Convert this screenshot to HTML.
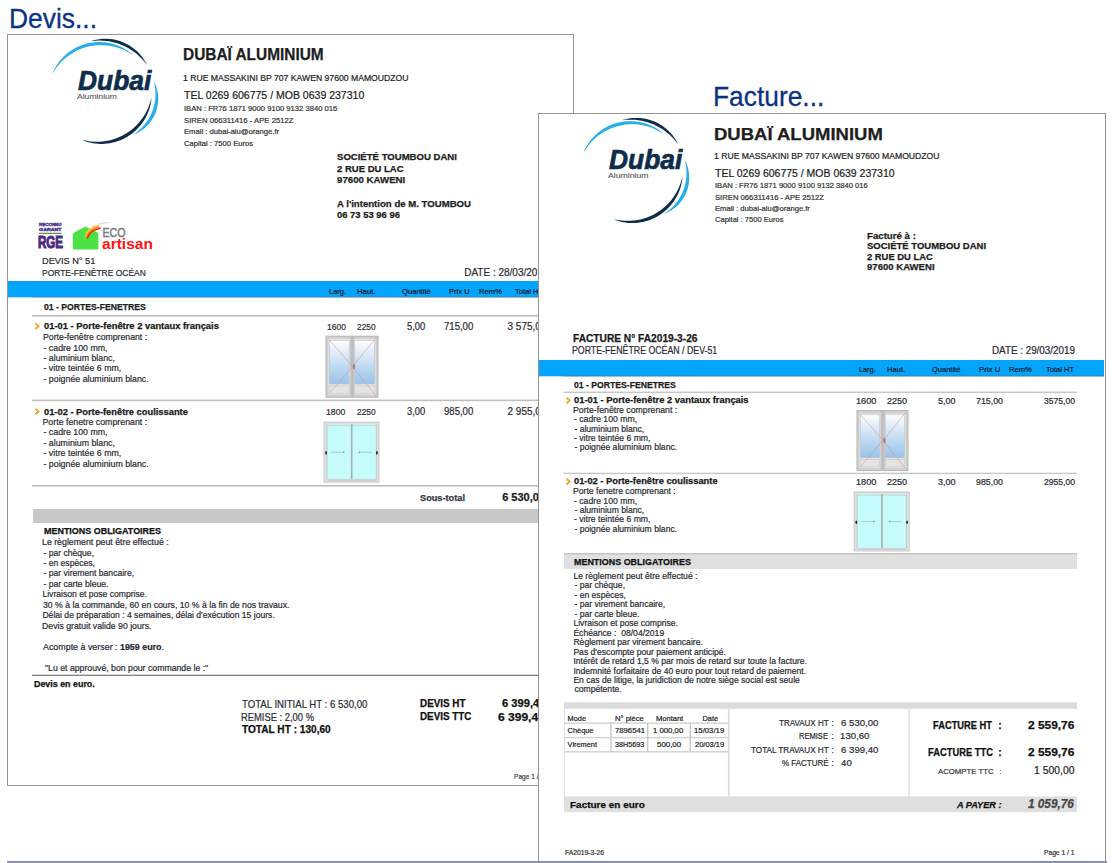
<!DOCTYPE html>
<html><head><meta charset="utf-8"><title>Devis / Facture</title>
<style>
html,body{margin:0;padding:0;background:#fff;}
body{width:1113px;height:863px;position:relative;overflow:hidden;font-family:"Liberation Sans",sans-serif;}
.t{position:absolute;white-space:nowrap;}
.s{position:absolute;left:0;top:0;}
#dbox{position:absolute;left:7px;top:34px;width:565px;height:750px;border:1px solid #959595;background:#fff;}
#fbox{position:absolute;left:538px;top:113px;width:566px;height:760px;border:1px solid #959595;background:#fff;}
#band{position:absolute;left:7px;top:861px;width:1100px;height:2px;background:#8a90a9;}
</style></head><body>
<div class="t" style="left:8.69px;top:4.90px;color:#0b3382;font-family:'Liberation Sans',sans-serif;font-size:27.60px;line-height:1;-webkit-text-stroke:0.3px #0b3382;transform:scaleX(0.9568);transform-origin:0 0;">Devis...</div>
<div class="t" style="left:712.59px;top:82.90px;color:#0b3382;font-family:'Liberation Sans',sans-serif;font-size:27.60px;line-height:1;-webkit-text-stroke:0.3px #0b3382;transform:scaleX(0.9549);transform-origin:0 0;">Facture...</div>
<div id="dbox"></div>
<svg class="s" width="1113" height="863" viewBox="0 0 1113 863"><defs><linearGradient id="gl" x1="0" y1="0" x2="0" y2="1"><stop offset="0" stop-color="#ffffff"/><stop offset="0.25" stop-color="#e2eef8"/><stop offset="1" stop-color="#97c3ea"/></linearGradient></defs><g transform="translate(0.0 0.7)"><path d="M52.33 73.22 L53.20 70.98 L54.23 68.80 L55.37 66.68 L56.63 64.61 L57.98 62.60 L59.44 60.66 L60.99 58.78 L62.63 56.98 L64.36 55.26 L66.18 53.62 L68.07 52.07 L70.04 50.61 L72.08 49.24 L74.18 47.98 L76.35 46.82 L78.57 45.76 L80.84 44.81 L83.16 43.97 L85.51 43.25 L87.90 42.63 L90.31 42.14 L92.75 41.77 L95.19 41.51 L97.65 41.37 L100.11 41.35 L102.57 41.45 L105.01 41.67 L107.45 42.01 L109.85 42.46 L112.24 43.03 L114.58 43.71 L116.89 44.51 L119.16 45.41 L121.37 46.42 L123.53 47.53 L125.63 48.75 L127.66 50.06 L129.61 51.47 L131.49 52.98 L133.26 54.61 L133.26 54.61 L131.24 53.32 L129.20 52.09 L127.12 50.94 L125.01 49.88 L122.86 48.91 L120.68 48.03 L118.46 47.24 L116.22 46.55 L113.96 45.96 L111.67 45.47 L109.38 45.07 L107.07 44.77 L104.75 44.56 L102.43 44.46 L100.11 44.45 L97.79 44.54 L95.49 44.72 L93.19 45.00 L90.90 45.38 L88.64 45.85 L86.39 46.42 L84.17 47.08 L81.98 47.83 L79.83 48.67 L77.70 49.60 L75.62 50.62 L73.58 51.73 L71.58 52.93 L69.64 54.21 L67.75 55.57 L65.91 57.01 L64.13 58.53 L62.42 60.13 L60.77 61.80 L59.19 63.55 L57.68 65.36 L56.24 67.24 L54.87 69.18 L53.58 71.18 L52.33 73.22Z" fill="#29aee8"/><path d="M91.36 40.34 L92.90 39.82 L94.47 39.39 L96.06 39.02 L97.67 38.72 L99.29 38.47 L100.92 38.29 L102.56 38.16 L104.20 38.09 L105.85 38.08 L107.50 38.12 L109.15 38.23 L110.80 38.40 L112.44 38.62 L114.07 38.90 L115.70 39.25 L117.31 39.65 L118.90 40.10 L120.48 40.62 L122.04 41.19 L123.58 41.82 L125.10 42.50 L126.59 43.23 L128.05 44.02 L129.48 44.86 L130.88 45.75 L132.25 46.69 L133.58 47.68 L134.87 48.71 L136.13 49.79 L137.34 50.91 L138.51 52.08 L139.64 53.28 L140.73 54.52 L141.76 55.79 L142.75 57.10 L143.69 58.44 L144.58 59.82 L145.41 61.22 L146.19 62.65 L146.87 64.13 L146.87 64.13 L145.86 62.86 L144.85 61.60 L143.82 60.37 L142.77 59.16 L141.68 57.99 L140.57 56.85 L139.43 55.74 L138.26 54.67 L137.06 53.63 L135.84 52.62 L134.60 51.65 L133.33 50.72 L132.03 49.82 L130.72 48.96 L129.38 48.14 L128.02 47.35 L126.64 46.60 L125.25 45.88 L123.83 45.21 L122.40 44.57 L120.95 43.97 L119.49 43.42 L118.01 42.90 L116.51 42.42 L115.01 41.98 L113.49 41.58 L111.95 41.22 L110.41 40.90 L108.86 40.62 L107.30 40.39 L105.73 40.20 L104.15 40.05 L102.57 39.94 L100.98 39.88 L99.38 39.86 L97.79 39.88 L96.18 39.95 L94.58 40.06 L92.98 40.20 L91.36 40.34Z" fill="#0d2d4b"/><path d="M153.77 80.29 L154.55 81.69 L155.22 83.14 L155.82 84.62 L156.36 86.14 L156.82 87.68 L157.23 89.24 L157.56 90.82 L157.83 92.42 L158.03 94.03 L158.16 95.66 L158.23 97.29 L158.22 98.92 L158.15 100.55 L158.00 102.18 L157.79 103.81 L157.51 105.42 L157.16 107.03 L156.74 108.62 L156.25 110.18 L155.70 111.73 L155.08 113.25 L154.40 114.75 L153.65 116.21 L152.84 117.64 L151.98 119.03 L151.05 120.39 L150.07 121.70 L149.04 122.97 L147.95 124.19 L146.82 125.36 L145.64 126.48 L144.42 127.55 L143.15 128.56 L141.85 129.52 L140.50 130.41 L139.13 131.25 L137.72 132.03 L136.29 132.73 L134.82 133.37 L133.31 133.89 L133.31 133.89 L134.59 132.96 L135.87 132.03 L137.11 131.08 L138.32 130.10 L139.50 129.08 L140.64 128.03 L141.74 126.95 L142.80 125.84 L143.82 124.70 L144.80 123.52 L145.74 122.32 L146.64 121.10 L147.50 119.84 L148.32 118.57 L149.10 117.26 L149.83 115.94 L150.52 114.60 L151.17 113.23 L151.77 111.85 L152.34 110.45 L152.85 109.03 L153.32 107.60 L153.75 106.15 L154.13 104.68 L154.47 103.21 L154.75 101.72 L155.00 100.22 L155.19 98.72 L155.34 97.20 L155.43 95.68 L155.48 94.15 L155.48 92.62 L155.43 91.08 L155.34 89.54 L155.19 88.00 L154.99 86.46 L154.74 84.92 L154.45 83.38 L154.11 81.84 L153.77 80.29Z" fill="#29aee8"/><path d="M151.45 97.01 L151.28 99.34 L150.95 101.66 L150.50 103.96 L149.94 106.24 L149.26 108.50 L148.48 110.73 L147.59 112.92 L146.59 115.08 L145.49 117.18 L144.29 119.24 L143.00 121.24 L141.61 123.17 L140.12 125.05 L138.55 126.85 L136.90 128.57 L135.16 130.22 L133.35 131.78 L131.46 133.26 L129.50 134.64 L127.48 135.93 L125.40 137.12 L123.27 138.22 L121.09 139.21 L118.86 140.09 L116.60 140.87 L114.30 141.54 L111.97 142.09 L109.63 142.54 L107.27 142.88 L104.90 143.10 L102.52 143.21 L100.15 143.20 L97.78 143.09 L95.42 142.86 L93.08 142.53 L90.77 142.08 L88.48 141.52 L86.23 140.85 L84.03 140.07 L81.88 139.14 L81.88 139.14 L84.15 139.64 L86.42 140.10 L88.70 140.48 L90.98 140.77 L93.27 140.96 L95.55 141.06 L97.83 141.07 L100.11 140.98 L102.38 140.80 L104.63 140.53 L106.87 140.17 L109.08 139.72 L111.27 139.18 L113.44 138.56 L115.58 137.84 L117.68 137.04 L119.75 136.16 L121.78 135.19 L123.77 134.15 L125.72 133.02 L127.62 131.82 L129.47 130.54 L131.26 129.19 L133.00 127.76 L134.69 126.27 L136.31 124.71 L137.87 123.08 L139.36 121.38 L140.79 119.63 L142.15 117.81 L143.43 115.94 L144.64 114.02 L145.77 112.04 L146.82 110.01 L147.79 107.94 L148.68 105.82 L149.48 103.67 L150.20 101.48 L150.84 99.26 L151.45 97.01Z" fill="#0d2d4b"/></g><text x="50.3" y="226.3" font-family="Liberation Sans" font-weight="bold" font-size="3.6" fill="#4a3490" stroke="#4a3490" stroke-width="0.35" text-anchor="middle" textLength="22.5" lengthAdjust="spacingAndGlyphs">RECONNU</text><text x="50.3" y="231.2" font-family="Liberation Sans" font-weight="bold" font-size="3.6" fill="#4a3490" stroke="#4a3490" stroke-width="0.35" text-anchor="middle" textLength="22.5" lengthAdjust="spacingAndGlyphs">GARANT</text><rect x="39" y="232.7" width="22.6" height="1.3" fill="#5e9a45"/><text x="37.9" y="248.2" font-family="Liberation Sans" font-weight="bold" font-size="16.4" fill="#4a2a86" stroke="#4a2a86" stroke-width="1.1" textLength="25.1" lengthAdjust="spacingAndGlyphs">RGE</text><path d="M72.9 234.5 Q72.9 233 74.2 232.4 L84.6 226.9 Q85.4 226.5 86.2 226.9 L97.2 232.2 Q98.4 232.8 98.4 234.2 L98.4 248 Q98.4 249.6 96.8 249.6 L74.5 249.6 Q72.9 249.6 72.9 248 Z" fill="#4be244"/><path d="M99 224.2 Q103.5 222.3 108.5 222.6" fill="none" stroke="#d2d2d2" stroke-width="1.3" stroke-linecap="round" opacity="0.8"/><path d="M85.2 237.0 Q88.2 227.2 99.0 225.6" fill="none" stroke="#f6c83a" stroke-width="1.6"/><path d="M86.3 237.5 Q89.2 228.5 99.6 226.9" fill="none" stroke="#f98d1e" stroke-width="1.4"/><path d="M87.4 238.0 Q90.3 229.8 100.2 228.2" fill="none" stroke="#ff1e12" stroke-width="1.5" stroke-linecap="round"/><text x="102.4" y="236.9" font-family="Liberation Sans" font-size="13.4" fill="#7a7a7a" stroke="#7a7a7a" stroke-width="0.5" textLength="23.2" lengthAdjust="spacingAndGlyphs">ECO</text><text x="102" y="249.1" font-family="Liberation Sans" font-weight="bold" font-size="15.2" fill="#ff1414" textLength="50.9" lengthAdjust="spacingAndGlyphs">artisan</text><rect x="8" y="281" width="565" height="16.3" fill="#02a4fc"/><rect x="32" y="296.4" width="541" height="1" fill="#4f7d9a" opacity="0.8"/><rect x="32" y="315.0" width="541" height="1.6" fill="#bfbfbf"/><rect x="32" y="399.6" width="541" height="1.6" fill="#bfbfbf"/><rect x="32" y="485.0" width="541" height="1.6" fill="#bfbfbf"/><polyline points="35.5,323.4 38.6,326.2 35.5,329.1" fill="none" stroke="#f4a52a" stroke-width="1.9" stroke-linejoin="miter" stroke-linecap="butt"/><polyline points="35.5,408.6 38.6,411.4 35.5,414.3" fill="none" stroke="#f4a52a" stroke-width="1.9" stroke-linejoin="miter" stroke-linecap="butt"/><g transform="translate(325.50 335.70) scale(1.0000 1.0000)"><rect x="0.5" y="0.5" width="52" height="61" fill="#d4d4d4" stroke="#b4b4b4" stroke-width="1"/><rect x="2.3" y="2.3" width="22.6" height="57.4" fill="#e0e0e0" stroke="#c2c2c2" stroke-width="0.6"/><rect x="28.6" y="2.3" width="22.1" height="57.4" fill="#e0e0e0" stroke="#c2c2c2" stroke-width="0.6"/><rect x="25.1" y="0.8" width="3.4" height="60.6" fill="#c3c3c3"/><line x1="26.8" y1="1" x2="26.8" y2="61" stroke="#b0b0b0" stroke-width="0.5"/><rect x="3.8" y="4.8" width="19.8" height="43.4" fill="url(#gl)" stroke="#b7c3cf" stroke-width="0.5"/><rect x="29.3" y="4.8" width="19.6" height="43.4" fill="url(#gl)" stroke="#b7c3cf" stroke-width="0.5"/><rect x="3.8" y="50.3" width="19.8" height="7.3" fill="#e4e4e4" stroke="#c8c8c8" stroke-width="0.5"/><rect x="29.3" y="50.3" width="19.6" height="7.3" fill="#e4e4e4" stroke="#c8c8c8" stroke-width="0.5"/><polyline points="3.6,4.2 27,30.8 3.6,57.8" fill="none" stroke="#e58a92" stroke-width="0.55"/><polyline points="51,1.6 27,30.8 51,60.8" fill="none" stroke="#e58a92" stroke-width="0.55"/><rect x="27.6" y="28.6" width="2" height="4.4" fill="#9b7f80"/></g><g transform="translate(323.50 421.60) scale(1.0000 1.0000)"><rect x="0.5" y="0.5" width="55" height="60" fill="#e2e2e2" stroke="#bdbdbd" stroke-width="0.8"/><rect x="3.6" y="3.3" width="24.2" height="54.4" fill="#c6fbfb"/><rect x="28.6" y="3.3" width="24" height="54.4" fill="#c6fbfb"/><rect x="3.6" y="3.3" width="49" height="1.2" fill="#b7e7e7"/><rect x="27.4" y="2.5" width="1.6" height="56" fill="#a9b0b0"/><line x1="3.4" y1="3" x2="3.4" y2="58" stroke="#b0b0b0" stroke-width="0.6"/><line x1="52.8" y1="3" x2="52.8" y2="58" stroke="#b0b0b0" stroke-width="0.6"/><rect x="3.6" y="57.5" width="49" height="2.2" fill="#d0d0d0"/><ellipse cx="2.6" cy="31.3" rx="0.9" ry="1.8" fill="#222"/><ellipse cx="53.4" cy="31.3" rx="0.9" ry="1.8" fill="#222"/><line x1="7.5" y1="30.6" x2="20.5" y2="30.6" stroke="#9aa" stroke-width="0.6"/><path d="M21.5 30.6 L19.5 29.6 L19.5 31.6Z" fill="#8a9a9a"/><line x1="35.5" y1="30.6" x2="48.5" y2="30.6" stroke="#9aa" stroke-width="0.6"/><path d="M34.5 30.6 L36.5 29.6 L36.5 31.6Z" fill="#8a9a9a"/></g><rect x="33" y="509" width="540" height="14" fill="#c8c8c8"/><rect x="32" y="674.7" width="541" height="1.2" fill="#777"/></svg>
<div class="t" style="left:77.90px;top:66.50px;color:#0d2d4b;font-family:'Liberation Sans',sans-serif;font-size:27.50px;line-height:1;font-weight:bold;font-style:italic;-webkit-text-stroke:0.7px #0d2d4b;transform:scaleX(0.9584);transform-origin:0 0;">Dubai</div>
<div class="t" style="left:76.90px;top:92.60px;color:#555;font-family:'Liberation Sans',sans-serif;font-size:7.70px;line-height:1;-webkit-text-stroke:0.1px #555;transform:scaleX(1.1143);transform-origin:0 0;">Aluminium</div>
<div class="t" style="left:183.41px;top:46.80px;color:#1e1e1e;font-family:'Liberation Sans',sans-serif;font-size:15.60px;line-height:1;font-weight:bold;-webkit-text-stroke:0.25px #1e1e1e;transform:scaleX(0.9879);transform-origin:0 0;">DUBAÏ ALUMINIUM</div>
<div class="t" style="left:182.96px;top:73.60px;color:#222;font-family:'Liberation Sans',sans-serif;font-size:8.30px;line-height:1;-webkit-text-stroke:0.20px #222;transform:scaleX(1.0405);transform-origin:0 0;">1 RUE MASSAKINI BP 707 KAWEN 97600 MAMOUDZOU</div>
<div class="t" style="left:184.00px;top:90.00px;color:#1a1a1a;font-family:'Liberation Sans',sans-serif;font-size:11.00px;line-height:1;-webkit-text-stroke:0.20px #1a1a1a;transform:scaleX(0.9559);transform-origin:0 0;">TEL 0269 606775 / MOB 0639 237310</div>
<div class="t" style="left:183.60px;top:104.80px;color:#333;font-family:'Liberation Sans',sans-serif;font-size:7.20px;line-height:1;-webkit-text-stroke:0.20px #333;transform:scaleX(1.0625);transform-origin:0 0;">IBAN : FR76 1871 9000 9100 9132 3840 016</div>
<div class="t" style="left:183.60px;top:116.50px;color:#333;font-family:'Liberation Sans',sans-serif;font-size:7.20px;line-height:1;-webkit-text-stroke:0.20px #333;transform:scaleX(1.0716);transform-origin:0 0;">SIREN 066311416 - APE 2512Z</div>
<div class="t" style="left:183.60px;top:128.20px;color:#333;font-family:'Liberation Sans',sans-serif;font-size:7.20px;line-height:1;-webkit-text-stroke:0.20px #333;transform:scaleX(1.0611);transform-origin:0 0;">Email : dubai-alu@orange.fr</div>
<div class="t" style="left:183.60px;top:139.60px;color:#333;font-family:'Liberation Sans',sans-serif;font-size:7.20px;line-height:1;-webkit-text-stroke:0.20px #333;transform:scaleX(1.0615);transform-origin:0 0;">Capital : 7500 Euros</div>
<div class="t" style="left:336.50px;top:153.10px;color:#1e1e1e;font-family:'Liberation Sans',sans-serif;font-size:9.30px;line-height:1;font-weight:bold;-webkit-text-stroke:0.25px #1e1e1e;transform:scaleX(1.0284);transform-origin:0 0;">SOCIÉTÉ TOUMBOU DANI</div>
<div class="t" style="left:336.50px;top:164.70px;color:#1e1e1e;font-family:'Liberation Sans',sans-serif;font-size:9.30px;line-height:1;font-weight:bold;-webkit-text-stroke:0.25px #1e1e1e;transform:scaleX(1.0231);transform-origin:0 0;">2 RUE DU LAC</div>
<div class="t" style="left:336.50px;top:176.00px;color:#1e1e1e;font-family:'Liberation Sans',sans-serif;font-size:9.30px;line-height:1;font-weight:bold;-webkit-text-stroke:0.25px #1e1e1e;transform:scaleX(1.0400);transform-origin:0 0;">97600 KAWENI</div>
<div class="t" style="left:336.50px;top:199.50px;color:#1e1e1e;font-family:'Liberation Sans',sans-serif;font-size:9.30px;line-height:1;font-weight:bold;-webkit-text-stroke:0.25px #1e1e1e;transform:scaleX(1.0326);transform-origin:0 0;">A l'intention de M. TOUMBOU</div>
<div class="t" style="left:336.50px;top:211.00px;color:#1e1e1e;font-family:'Liberation Sans',sans-serif;font-size:9.30px;line-height:1;font-weight:bold;-webkit-text-stroke:0.25px #1e1e1e;transform:scaleX(1.0145);transform-origin:0 0;">06 73 53 96 96</div>
<div class="t" style="left:41.53px;top:255.70px;color:#2a2a33;font-family:'Liberation Sans',sans-serif;font-size:9.50px;line-height:1;-webkit-text-stroke:0.20px #2a2a33;transform:scaleX(0.9685);transform-origin:0 0;">DEVIS N° 51</div>
<div class="t" style="left:41.61px;top:267.90px;color:#2a2a33;font-family:'Liberation Sans',sans-serif;font-size:9.50px;line-height:1;-webkit-text-stroke:0.20px #2a2a33;transform:scaleX(0.8913);transform-origin:0 0;">PORTE-FENÊTRE OCÉAN</div>
<div class="t" style="left:464.20px;top:267.60px;color:#2a2a33;font-family:'Liberation Sans',sans-serif;font-size:10.00px;line-height:1;-webkit-text-stroke:0.20px #2a2a33;">DATE : 28/03/2019</div>
<div class="t" style="left:328.60px;top:288.00px;color:#0e1a28;font-family:'Liberation Sans',sans-serif;font-size:7.50px;line-height:1;-webkit-text-stroke:0.20px #0e1a28;transform:scaleX(0.9941);transform-origin:0 0;">Larg.</div>
<div class="t" style="left:357.20px;top:288.00px;color:#0e1a28;font-family:'Liberation Sans',sans-serif;font-size:7.50px;line-height:1;-webkit-text-stroke:0.20px #0e1a28;transform:scaleX(1.0353);transform-origin:0 0;">Haut.</div>
<div class="t" style="left:401.60px;top:288.00px;color:#0e1a28;font-family:'Liberation Sans',sans-serif;font-size:7.50px;line-height:1;-webkit-text-stroke:0.20px #0e1a28;transform:scaleX(1.0143);transform-origin:0 0;">Quantité</div>
<div class="t" style="left:448.90px;top:288.00px;color:#0e1a28;font-family:'Liberation Sans',sans-serif;font-size:7.50px;line-height:1;-webkit-text-stroke:0.20px #0e1a28;transform:scaleX(1.0100);transform-origin:0 0;">Prix U</div>
<div class="t" style="left:478.50px;top:288.00px;color:#0e1a28;font-family:'Liberation Sans',sans-serif;font-size:7.50px;line-height:1;-webkit-text-stroke:0.20px #0e1a28;transform:scaleX(1.0227);transform-origin:0 0;">Rem%</div>
<div class="t" style="left:515.30px;top:288.00px;color:#0e1a28;font-family:'Liberation Sans',sans-serif;font-size:7.50px;line-height:1;-webkit-text-stroke:0.20px #0e1a28;transform:scaleX(1.0107);transform-origin:0 0;">Total HT</div>
<div class="t" style="left:43.70px;top:302.70px;color:#1e1e1e;font-family:'Liberation Sans',sans-serif;font-size:9.30px;line-height:1;font-weight:bold;-webkit-text-stroke:0.25px #1e1e1e;transform:scaleX(0.9294);transform-origin:0 0;">01 - PORTES-FENETRES</div>
<div class="t" style="left:43.50px;top:322.40px;color:#1a1a1a;font-family:'Liberation Sans',sans-serif;font-size:9.00px;line-height:1;font-weight:bold;-webkit-text-stroke:0.25px #1a1a1a;transform:scaleX(1.0405);transform-origin:0 0;">01-01 - Porte-fenêtre 2 vantaux français</div>
<div class="t" style="left:42.51px;top:333.20px;color:#2a2a33;font-family:'Liberation Sans',sans-serif;font-size:8.80px;line-height:1;-webkit-text-stroke:0.20px #2a2a33;transform:scaleX(0.9904);transform-origin:0 0;">Porte-fenêtre comprenant :</div>
<div class="t" style="left:43.50px;top:343.55px;color:#2a2a33;font-family:'Liberation Sans',sans-serif;font-size:8.80px;line-height:1;-webkit-text-stroke:0.20px #2a2a33;">- cadre 100 mm,</div>
<div class="t" style="left:43.50px;top:353.90px;color:#2a2a33;font-family:'Liberation Sans',sans-serif;font-size:8.80px;line-height:1;-webkit-text-stroke:0.20px #2a2a33;">- aluminium blanc,</div>
<div class="t" style="left:43.50px;top:364.25px;color:#2a2a33;font-family:'Liberation Sans',sans-serif;font-size:8.80px;line-height:1;-webkit-text-stroke:0.20px #2a2a33;">- vitre teintée 6 mm,</div>
<div class="t" style="left:43.50px;top:374.60px;color:#2a2a33;font-family:'Liberation Sans',sans-serif;font-size:8.80px;line-height:1;-webkit-text-stroke:0.20px #2a2a33;">- poignée aluminium blanc.</div>
<div class="t" style="left:326.69px;top:322.00px;color:#2a2a33;font-family:'Liberation Sans',sans-serif;font-size:9.40px;line-height:1;-webkit-text-stroke:0.20px #2a2a33;transform:scaleX(0.9100);transform-origin:0 0;">1600</div>
<div class="t" style="left:357.00px;top:322.00px;color:#2a2a33;font-family:'Liberation Sans',sans-serif;font-size:9.40px;line-height:1;-webkit-text-stroke:0.20px #2a2a33;transform:scaleX(0.8905);transform-origin:0 0;">2250</div>
<div class="t" style="left:406.90px;top:322.40px;color:#2a2a33;font-family:'Liberation Sans',sans-serif;font-size:10.00px;line-height:1;-webkit-text-stroke:0.20px #2a2a33;transform:scaleX(0.9368);transform-origin:0 0;">5,00</div>
<div class="t" style="left:444.30px;top:322.40px;color:#2a2a33;font-family:'Liberation Sans',sans-serif;font-size:10.00px;line-height:1;-webkit-text-stroke:0.20px #2a2a33;transform:scaleX(0.9567);transform-origin:0 0;">715,00</div>
<div class="t" style="left:507.50px;top:322.40px;color:#2a2a33;font-family:'Liberation Sans',sans-serif;font-size:10.00px;line-height:1;-webkit-text-stroke:0.20px #2a2a33;">3 575,00</div>
<div class="t" style="left:43.50px;top:407.60px;color:#1a1a1a;font-family:'Liberation Sans',sans-serif;font-size:9.00px;line-height:1;font-weight:bold;-webkit-text-stroke:0.25px #1a1a1a;transform:scaleX(1.0345);transform-origin:0 0;">01-02 - Porte-fenêtre coulissante</div>
<div class="t" style="left:42.50px;top:417.90px;color:#2a2a33;font-family:'Liberation Sans',sans-serif;font-size:8.80px;line-height:1;-webkit-text-stroke:0.20px #2a2a33;">Porte fenetre comprenant :</div>
<div class="t" style="left:43.50px;top:428.30px;color:#2a2a33;font-family:'Liberation Sans',sans-serif;font-size:8.80px;line-height:1;-webkit-text-stroke:0.20px #2a2a33;">- cadre 100 mm,</div>
<div class="t" style="left:43.50px;top:438.70px;color:#2a2a33;font-family:'Liberation Sans',sans-serif;font-size:8.80px;line-height:1;-webkit-text-stroke:0.20px #2a2a33;">- aluminium blanc,</div>
<div class="t" style="left:43.50px;top:449.10px;color:#2a2a33;font-family:'Liberation Sans',sans-serif;font-size:8.80px;line-height:1;-webkit-text-stroke:0.20px #2a2a33;">- vitre teintée 6 mm,</div>
<div class="t" style="left:43.50px;top:459.50px;color:#2a2a33;font-family:'Liberation Sans',sans-serif;font-size:8.80px;line-height:1;-webkit-text-stroke:0.20px #2a2a33;">- poignée aluminium blanc.</div>
<div class="t" style="left:326.27px;top:406.50px;color:#2a2a33;font-family:'Liberation Sans',sans-serif;font-size:9.40px;line-height:1;-webkit-text-stroke:0.20px #2a2a33;transform:scaleX(0.9300);transform-origin:0 0;">1800</div>
<div class="t" style="left:357.00px;top:406.50px;color:#2a2a33;font-family:'Liberation Sans',sans-serif;font-size:9.40px;line-height:1;-webkit-text-stroke:0.20px #2a2a33;transform:scaleX(0.8905);transform-origin:0 0;">2250</div>
<div class="t" style="left:406.90px;top:406.90px;color:#2a2a33;font-family:'Liberation Sans',sans-serif;font-size:10.00px;line-height:1;-webkit-text-stroke:0.20px #2a2a33;transform:scaleX(0.9368);transform-origin:0 0;">3,00</div>
<div class="t" style="left:444.30px;top:406.90px;color:#2a2a33;font-family:'Liberation Sans',sans-serif;font-size:10.00px;line-height:1;-webkit-text-stroke:0.20px #2a2a33;transform:scaleX(0.9567);transform-origin:0 0;">985,00</div>
<div class="t" style="left:507.50px;top:406.90px;color:#2a2a33;font-family:'Liberation Sans',sans-serif;font-size:10.00px;line-height:1;-webkit-text-stroke:0.20px #2a2a33;">2 955,00</div>
<div class="t" style="left:419.70px;top:493.90px;color:#333844;font-family:'Liberation Sans',sans-serif;font-size:9.30px;line-height:1;font-weight:bold;-webkit-text-stroke:0.25px #333844;transform:scaleX(0.9889);transform-origin:0 0;">Sous-total</div>
<div class="t" style="left:502.20px;top:492.00px;color:#222;font-family:'Liberation Sans',sans-serif;font-size:11.00px;line-height:1;font-weight:bold;-webkit-text-stroke:0.25px #222;">6 530,00</div>
<div class="t" style="left:43.80px;top:526.90px;color:#111;font-family:'Liberation Sans',sans-serif;font-size:8.60px;line-height:1;font-weight:bold;-webkit-text-stroke:0.25px #111;transform:scaleX(1.0411);transform-origin:0 0;">MENTIONS OBLIGATOIRES</div>
<div class="t" style="left:42.38px;top:538.30px;color:#2a2a33;font-family:'Liberation Sans',sans-serif;font-size:8.60px;line-height:1;-webkit-text-stroke:0.20px #2a2a33;transform:scaleX(1.0211);transform-origin:0 0;">Le règlement peut être effectué :</div>
<div class="t" style="left:43.40px;top:548.50px;color:#2a2a33;font-family:'Liberation Sans',sans-serif;font-size:8.60px;line-height:1;-webkit-text-stroke:0.20px #2a2a33;">- par chèque,</div>
<div class="t" style="left:43.40px;top:558.90px;color:#2a2a33;font-family:'Liberation Sans',sans-serif;font-size:8.60px;line-height:1;-webkit-text-stroke:0.20px #2a2a33;">- en espèces,</div>
<div class="t" style="left:43.40px;top:569.30px;color:#2a2a33;font-family:'Liberation Sans',sans-serif;font-size:8.60px;line-height:1;-webkit-text-stroke:0.20px #2a2a33;">- par virement bancaire,</div>
<div class="t" style="left:43.40px;top:579.50px;color:#2a2a33;font-family:'Liberation Sans',sans-serif;font-size:8.60px;line-height:1;-webkit-text-stroke:0.20px #2a2a33;">- par carte bleue.</div>
<div class="t" style="left:42.40px;top:590.20px;color:#2a2a33;font-family:'Liberation Sans',sans-serif;font-size:8.60px;line-height:1;-webkit-text-stroke:0.20px #2a2a33;">Livraison et pose comprise.</div>
<div class="t" style="left:43.40px;top:600.60px;color:#2a2a33;font-family:'Liberation Sans',sans-serif;font-size:8.60px;line-height:1;-webkit-text-stroke:0.20px #2a2a33;transform:scaleX(1.0115);transform-origin:0 0;">30 % à la commande, 60 en cours, 10 % à la fin de nos travaux.</div>
<div class="t" style="left:42.40px;top:611.10px;color:#2a2a33;font-family:'Liberation Sans',sans-serif;font-size:8.60px;line-height:1;-webkit-text-stroke:0.20px #2a2a33;">Délai de préparation : 4 semaines, délai d'exécution 15 jours.</div>
<div class="t" style="left:42.39px;top:621.50px;color:#2a2a33;font-family:'Liberation Sans',sans-serif;font-size:8.60px;line-height:1;-webkit-text-stroke:0.20px #2a2a33;transform:scaleX(1.0142);transform-origin:0 0;">Devis gratuit valide 90 jours.</div>
<div class="t" style="left:43.40px;top:642.70px;color:#2a2a33;font-family:'Liberation Sans',sans-serif;font-size:8.60px;line-height:1;-webkit-text-stroke:0.20px #2a2a33;transform:scaleX(1.0333);transform-origin:0 0;">Acompte à verser : <b>1959 euro</b>.</div>
<div class="t" style="left:45.00px;top:663.80px;color:#2a2a33;font-family:'Liberation Sans',sans-serif;font-size:8.60px;line-height:1;-webkit-text-stroke:0.20px #2a2a33;transform:scaleX(1.0143);transform-origin:0 0;">"Lu et approuvé, bon pour commande le :"</div>
<div class="t" style="left:34.40px;top:680.30px;color:#111;font-family:'Liberation Sans',sans-serif;font-size:8.80px;line-height:1;font-weight:bold;-webkit-text-stroke:0.25px #111;transform:scaleX(1.0100);transform-origin:0 0;">Devis en euro.</div>
<div class="t" style="left:241.50px;top:699.60px;color:#2a2a33;font-family:'Liberation Sans',sans-serif;font-size:10.40px;line-height:1;-webkit-text-stroke:0.20px #2a2a33;transform:scaleX(0.9252);transform-origin:0 0;">TOTAL INITIAL HT : 6 530,00</div>
<div class="t" style="left:240.60px;top:712.50px;color:#2a2a33;font-family:'Liberation Sans',sans-serif;font-size:10.40px;line-height:1;-webkit-text-stroke:0.20px #2a2a33;transform:scaleX(0.9025);transform-origin:0 0;">REMISE : 2,00 %</div>
<div class="t" style="left:241.50px;top:724.80px;color:#111;font-family:'Liberation Sans',sans-serif;font-size:10.40px;line-height:1;font-weight:bold;-webkit-text-stroke:0.25px #111;transform:scaleX(0.9725);transform-origin:0 0;">TOTAL HT : 130,60</div>
<div class="t" style="left:419.70px;top:699.30px;color:#111;font-family:'Liberation Sans',sans-serif;font-size:10.40px;line-height:1;font-weight:bold;-webkit-text-stroke:0.25px #111;transform:scaleX(0.9500);transform-origin:0 0;">DEVIS HT</div>
<div class="t" style="left:419.70px;top:712.20px;color:#111;font-family:'Liberation Sans',sans-serif;font-size:10.40px;line-height:1;font-weight:bold;-webkit-text-stroke:0.25px #111;transform:scaleX(0.9463);transform-origin:0 0;">DEVIS TTC</div>
<div class="t" style="left:502.20px;top:699.30px;color:#111;font-family:'Liberation Sans',sans-serif;font-size:10.40px;line-height:1;font-weight:bold;-webkit-text-stroke:0.25px #111;transform:scaleX(1.0725);transform-origin:0 0;">6 399,40</div>
<div class="t" style="left:498.30px;top:711.50px;color:#111;font-family:'Liberation Sans',sans-serif;font-size:11.40px;line-height:1;font-weight:bold;-webkit-text-stroke:0.25px #111;transform:scaleX(1.0568);transform-origin:0 0;">6 399,40</div>
<div class="t" style="left:514.00px;top:773.80px;color:#444;font-family:'Liberation Sans',sans-serif;font-size:6.60px;line-height:1;-webkit-text-stroke:0.20px #444;">Page 1 / 1</div>
<div id="fbox"></div>
<svg class="s" width="1113" height="863" viewBox="0 0 1113 863"><g transform="translate(531.0 79.8)"><path d="M52.33 73.22 L53.20 70.98 L54.23 68.80 L55.37 66.68 L56.63 64.61 L57.98 62.60 L59.44 60.66 L60.99 58.78 L62.63 56.98 L64.36 55.26 L66.18 53.62 L68.07 52.07 L70.04 50.61 L72.08 49.24 L74.18 47.98 L76.35 46.82 L78.57 45.76 L80.84 44.81 L83.16 43.97 L85.51 43.25 L87.90 42.63 L90.31 42.14 L92.75 41.77 L95.19 41.51 L97.65 41.37 L100.11 41.35 L102.57 41.45 L105.01 41.67 L107.45 42.01 L109.85 42.46 L112.24 43.03 L114.58 43.71 L116.89 44.51 L119.16 45.41 L121.37 46.42 L123.53 47.53 L125.63 48.75 L127.66 50.06 L129.61 51.47 L131.49 52.98 L133.26 54.61 L133.26 54.61 L131.24 53.32 L129.20 52.09 L127.12 50.94 L125.01 49.88 L122.86 48.91 L120.68 48.03 L118.46 47.24 L116.22 46.55 L113.96 45.96 L111.67 45.47 L109.38 45.07 L107.07 44.77 L104.75 44.56 L102.43 44.46 L100.11 44.45 L97.79 44.54 L95.49 44.72 L93.19 45.00 L90.90 45.38 L88.64 45.85 L86.39 46.42 L84.17 47.08 L81.98 47.83 L79.83 48.67 L77.70 49.60 L75.62 50.62 L73.58 51.73 L71.58 52.93 L69.64 54.21 L67.75 55.57 L65.91 57.01 L64.13 58.53 L62.42 60.13 L60.77 61.80 L59.19 63.55 L57.68 65.36 L56.24 67.24 L54.87 69.18 L53.58 71.18 L52.33 73.22Z" fill="#29aee8"/><path d="M91.36 40.34 L92.90 39.82 L94.47 39.39 L96.06 39.02 L97.67 38.72 L99.29 38.47 L100.92 38.29 L102.56 38.16 L104.20 38.09 L105.85 38.08 L107.50 38.12 L109.15 38.23 L110.80 38.40 L112.44 38.62 L114.07 38.90 L115.70 39.25 L117.31 39.65 L118.90 40.10 L120.48 40.62 L122.04 41.19 L123.58 41.82 L125.10 42.50 L126.59 43.23 L128.05 44.02 L129.48 44.86 L130.88 45.75 L132.25 46.69 L133.58 47.68 L134.87 48.71 L136.13 49.79 L137.34 50.91 L138.51 52.08 L139.64 53.28 L140.73 54.52 L141.76 55.79 L142.75 57.10 L143.69 58.44 L144.58 59.82 L145.41 61.22 L146.19 62.65 L146.87 64.13 L146.87 64.13 L145.86 62.86 L144.85 61.60 L143.82 60.37 L142.77 59.16 L141.68 57.99 L140.57 56.85 L139.43 55.74 L138.26 54.67 L137.06 53.63 L135.84 52.62 L134.60 51.65 L133.33 50.72 L132.03 49.82 L130.72 48.96 L129.38 48.14 L128.02 47.35 L126.64 46.60 L125.25 45.88 L123.83 45.21 L122.40 44.57 L120.95 43.97 L119.49 43.42 L118.01 42.90 L116.51 42.42 L115.01 41.98 L113.49 41.58 L111.95 41.22 L110.41 40.90 L108.86 40.62 L107.30 40.39 L105.73 40.20 L104.15 40.05 L102.57 39.94 L100.98 39.88 L99.38 39.86 L97.79 39.88 L96.18 39.95 L94.58 40.06 L92.98 40.20 L91.36 40.34Z" fill="#0d2d4b"/><path d="M153.77 80.29 L154.55 81.69 L155.22 83.14 L155.82 84.62 L156.36 86.14 L156.82 87.68 L157.23 89.24 L157.56 90.82 L157.83 92.42 L158.03 94.03 L158.16 95.66 L158.23 97.29 L158.22 98.92 L158.15 100.55 L158.00 102.18 L157.79 103.81 L157.51 105.42 L157.16 107.03 L156.74 108.62 L156.25 110.18 L155.70 111.73 L155.08 113.25 L154.40 114.75 L153.65 116.21 L152.84 117.64 L151.98 119.03 L151.05 120.39 L150.07 121.70 L149.04 122.97 L147.95 124.19 L146.82 125.36 L145.64 126.48 L144.42 127.55 L143.15 128.56 L141.85 129.52 L140.50 130.41 L139.13 131.25 L137.72 132.03 L136.29 132.73 L134.82 133.37 L133.31 133.89 L133.31 133.89 L134.59 132.96 L135.87 132.03 L137.11 131.08 L138.32 130.10 L139.50 129.08 L140.64 128.03 L141.74 126.95 L142.80 125.84 L143.82 124.70 L144.80 123.52 L145.74 122.32 L146.64 121.10 L147.50 119.84 L148.32 118.57 L149.10 117.26 L149.83 115.94 L150.52 114.60 L151.17 113.23 L151.77 111.85 L152.34 110.45 L152.85 109.03 L153.32 107.60 L153.75 106.15 L154.13 104.68 L154.47 103.21 L154.75 101.72 L155.00 100.22 L155.19 98.72 L155.34 97.20 L155.43 95.68 L155.48 94.15 L155.48 92.62 L155.43 91.08 L155.34 89.54 L155.19 88.00 L154.99 86.46 L154.74 84.92 L154.45 83.38 L154.11 81.84 L153.77 80.29Z" fill="#29aee8"/><path d="M151.45 97.01 L151.28 99.34 L150.95 101.66 L150.50 103.96 L149.94 106.24 L149.26 108.50 L148.48 110.73 L147.59 112.92 L146.59 115.08 L145.49 117.18 L144.29 119.24 L143.00 121.24 L141.61 123.17 L140.12 125.05 L138.55 126.85 L136.90 128.57 L135.16 130.22 L133.35 131.78 L131.46 133.26 L129.50 134.64 L127.48 135.93 L125.40 137.12 L123.27 138.22 L121.09 139.21 L118.86 140.09 L116.60 140.87 L114.30 141.54 L111.97 142.09 L109.63 142.54 L107.27 142.88 L104.90 143.10 L102.52 143.21 L100.15 143.20 L97.78 143.09 L95.42 142.86 L93.08 142.53 L90.77 142.08 L88.48 141.52 L86.23 140.85 L84.03 140.07 L81.88 139.14 L81.88 139.14 L84.15 139.64 L86.42 140.10 L88.70 140.48 L90.98 140.77 L93.27 140.96 L95.55 141.06 L97.83 141.07 L100.11 140.98 L102.38 140.80 L104.63 140.53 L106.87 140.17 L109.08 139.72 L111.27 139.18 L113.44 138.56 L115.58 137.84 L117.68 137.04 L119.75 136.16 L121.78 135.19 L123.77 134.15 L125.72 133.02 L127.62 131.82 L129.47 130.54 L131.26 129.19 L133.00 127.76 L134.69 126.27 L136.31 124.71 L137.87 123.08 L139.36 121.38 L140.79 119.63 L142.15 117.81 L143.43 115.94 L144.64 114.02 L145.77 112.04 L146.82 110.01 L147.79 107.94 L148.68 105.82 L149.48 103.67 L150.20 101.48 L150.84 99.26 L151.45 97.01Z" fill="#0d2d4b"/></g><rect x="539" y="360" width="565" height="16.3" fill="#02a4fc"/><rect x="563" y="375.4" width="541" height="1" fill="#4f7d9a" opacity="0.8"/><rect x="563.6" y="391.6" width="513.4" height="1.4" fill="#c6c6c6"/><rect x="563.6" y="472.7" width="513.4" height="1.4" fill="#c6c6c6"/><polyline points="566.5,397.7 569.6,400.6 566.5,403.4" fill="none" stroke="#f4a52a" stroke-width="1.9" stroke-linejoin="miter" stroke-linecap="butt"/><polyline points="566.5,478.8 569.6,481.6 566.5,484.5" fill="none" stroke="#f4a52a" stroke-width="1.9" stroke-linejoin="miter" stroke-linecap="butt"/><g transform="translate(856.50 410.10) scale(0.9811 0.9839)"><rect x="0.5" y="0.5" width="52" height="61" fill="#d4d4d4" stroke="#b4b4b4" stroke-width="1"/><rect x="2.3" y="2.3" width="22.6" height="57.4" fill="#e0e0e0" stroke="#c2c2c2" stroke-width="0.6"/><rect x="28.6" y="2.3" width="22.1" height="57.4" fill="#e0e0e0" stroke="#c2c2c2" stroke-width="0.6"/><rect x="25.1" y="0.8" width="3.4" height="60.6" fill="#c3c3c3"/><line x1="26.8" y1="1" x2="26.8" y2="61" stroke="#b0b0b0" stroke-width="0.5"/><rect x="3.8" y="4.8" width="19.8" height="43.4" fill="url(#gl)" stroke="#b7c3cf" stroke-width="0.5"/><rect x="29.3" y="4.8" width="19.6" height="43.4" fill="url(#gl)" stroke="#b7c3cf" stroke-width="0.5"/><rect x="3.8" y="50.3" width="19.8" height="7.3" fill="#e4e4e4" stroke="#c8c8c8" stroke-width="0.5"/><rect x="29.3" y="50.3" width="19.6" height="7.3" fill="#e4e4e4" stroke="#c8c8c8" stroke-width="0.5"/><polyline points="3.6,4.2 27,30.8 3.6,57.8" fill="none" stroke="#e58a92" stroke-width="0.55"/><polyline points="51,1.6 27,30.8 51,60.8" fill="none" stroke="#e58a92" stroke-width="0.55"/><rect x="27.6" y="28.6" width="2" height="4.4" fill="#9b7f80"/></g><g transform="translate(853.70 491.50) scale(1.0000 0.9836)"><rect x="0.5" y="0.5" width="55" height="60" fill="#e2e2e2" stroke="#bdbdbd" stroke-width="0.8"/><rect x="3.6" y="3.3" width="24.2" height="54.4" fill="#c6fbfb"/><rect x="28.6" y="3.3" width="24" height="54.4" fill="#c6fbfb"/><rect x="3.6" y="3.3" width="49" height="1.2" fill="#b7e7e7"/><rect x="27.4" y="2.5" width="1.6" height="56" fill="#a9b0b0"/><line x1="3.4" y1="3" x2="3.4" y2="58" stroke="#b0b0b0" stroke-width="0.6"/><line x1="52.8" y1="3" x2="52.8" y2="58" stroke="#b0b0b0" stroke-width="0.6"/><rect x="3.6" y="57.5" width="49" height="2.2" fill="#d0d0d0"/><ellipse cx="2.6" cy="31.3" rx="0.9" ry="1.8" fill="#222"/><ellipse cx="53.4" cy="31.3" rx="0.9" ry="1.8" fill="#222"/><line x1="7.5" y1="30.6" x2="20.5" y2="30.6" stroke="#9aa" stroke-width="0.6"/><path d="M21.5 30.6 L19.5 29.6 L19.5 31.6Z" fill="#8a9a9a"/><line x1="35.5" y1="30.6" x2="48.5" y2="30.6" stroke="#9aa" stroke-width="0.6"/><path d="M34.5 30.6 L36.5 29.6 L36.5 31.6Z" fill="#8a9a9a"/></g><rect x="564" y="553.5" width="513" height="15.5" fill="#e0e0e0"/><rect x="564" y="553.3" width="513" height="1" fill="#b5b5b5"/><rect x="564" y="702.3" width="513" height="6.5" fill="#dcdcdc"/><rect x="563.8" y="708.8" width="1.3" height="88" fill="#e2e2e2"/><rect x="727.9" y="708.8" width="1.8" height="88" fill="#e0e0e0"/><rect x="908.3" y="708.8" width="1.6" height="88" fill="#e0e0e0"/><rect x="564" y="722.4" width="165" height="1.4" fill="#d2d2d2"/><rect x="564" y="736.9" width="165" height="1.4" fill="#d2d2d2"/><rect x="564" y="751.1" width="165" height="1.4" fill="#d2d2d2"/><rect x="610.3" y="723" width="1.4" height="29" fill="#c8c8c8"/><rect x="647.0" y="723" width="1.4" height="29" fill="#c8c8c8"/><rect x="689.6" y="723" width="1.4" height="29" fill="#c8c8c8"/><rect x="564" y="796.4" width="513" height="15.7" fill="#dfdfdf"/></svg>
<div class="t" style="left:608.90px;top:145.60px;color:#0d2d4b;font-family:'Liberation Sans',sans-serif;font-size:27.50px;line-height:1;font-weight:bold;font-style:italic;-webkit-text-stroke:0.7px #0d2d4b;transform:scaleX(0.9584);transform-origin:0 0;">Dubai</div>
<div class="t" style="left:607.50px;top:172.00px;color:#555;font-family:'Liberation Sans',sans-serif;font-size:7.70px;line-height:1;-webkit-text-stroke:0.1px #555;transform:scaleX(1.1286);transform-origin:0 0;">Aluminium</div>
<div class="t" style="left:713.51px;top:127.40px;color:#1e1e1e;font-family:'Liberation Sans',sans-serif;font-size:15.60px;line-height:1;font-weight:bold;-webkit-text-stroke:0.25px #1e1e1e;transform:scaleX(1.1857);transform-origin:0 0;">DUBAÏ ALUMINIUM</div>
<div class="t" style="left:713.66px;top:152.20px;color:#222;font-family:'Liberation Sans',sans-serif;font-size:8.30px;line-height:1;-webkit-text-stroke:0.20px #222;transform:scaleX(1.0409);transform-origin:0 0;">1 RUE MASSAKINI BP 707 KAWEN 97600 MAMOUDZOU</div>
<div class="t" style="left:714.70px;top:167.90px;color:#1a1a1a;font-family:'Liberation Sans',sans-serif;font-size:11.00px;line-height:1;-webkit-text-stroke:0.20px #1a1a1a;transform:scaleX(0.9521);transform-origin:0 0;">TEL 0269 606775 / MOB 0639 237310</div>
<div class="t" style="left:714.70px;top:182.30px;color:#333;font-family:'Liberation Sans',sans-serif;font-size:7.20px;line-height:1;-webkit-text-stroke:0.20px #333;transform:scaleX(1.0590);transform-origin:0 0;">IBAN : FR76 1871 9000 9100 9132 3840 016</div>
<div class="t" style="left:714.70px;top:193.60px;color:#333;font-family:'Liberation Sans',sans-serif;font-size:7.20px;line-height:1;-webkit-text-stroke:0.20px #333;transform:scaleX(1.0676);transform-origin:0 0;">SIREN 066311416 - APE 2512Z</div>
<div class="t" style="left:714.70px;top:205.10px;color:#333;font-family:'Liberation Sans',sans-serif;font-size:7.20px;line-height:1;-webkit-text-stroke:0.20px #333;transform:scaleX(1.0589);transform-origin:0 0;">Email : dubai-alu@orange.fr</div>
<div class="t" style="left:714.70px;top:216.40px;color:#333;font-family:'Liberation Sans',sans-serif;font-size:7.20px;line-height:1;-webkit-text-stroke:0.20px #333;transform:scaleX(1.0508);transform-origin:0 0;">Capital : 7500 Euros</div>
<div class="t" style="left:867.30px;top:231.60px;color:#1e1e1e;font-family:'Liberation Sans',sans-serif;font-size:9.30px;line-height:1;font-weight:bold;-webkit-text-stroke:0.25px #1e1e1e;transform:scaleX(1.0391);transform-origin:0 0;">Facturé à :</div>
<div class="t" style="left:867.30px;top:241.90px;color:#1e1e1e;font-family:'Liberation Sans',sans-serif;font-size:9.30px;line-height:1;font-weight:bold;-webkit-text-stroke:0.25px #1e1e1e;transform:scaleX(1.0216);transform-origin:0 0;">SOCIÉTÉ TOUMBOU DANI</div>
<div class="t" style="left:867.30px;top:252.60px;color:#1e1e1e;font-family:'Liberation Sans',sans-serif;font-size:9.30px;line-height:1;font-weight:bold;-webkit-text-stroke:0.25px #1e1e1e;transform:scaleX(1.0108);transform-origin:0 0;">2 RUE DU LAC</div>
<div class="t" style="left:867.30px;top:262.70px;color:#1e1e1e;font-family:'Liberation Sans',sans-serif;font-size:9.30px;line-height:1;font-weight:bold;-webkit-text-stroke:0.25px #1e1e1e;transform:scaleX(1.0292);transform-origin:0 0;">97600 KAWENI</div>
<div class="t" style="left:572.50px;top:333.50px;color:#1a1a1a;font-family:'Liberation Sans',sans-serif;font-size:10.00px;line-height:1;font-weight:bold;-webkit-text-stroke:0.25px #1a1a1a;transform:scaleX(1.0172);transform-origin:0 0;">FACTURE N° FA2019-3-26</div>
<div class="t" style="left:571.62px;top:345.80px;color:#2a2a33;font-family:'Liberation Sans',sans-serif;font-size:10.00px;line-height:1;-webkit-text-stroke:0.20px #2a2a33;transform:scaleX(0.8780);transform-origin:0 0;">PORTE-FENÊTRE OCÉAN / DEV-51</div>
<div class="t" style="left:992.02px;top:346.30px;color:#2a2a33;font-family:'Liberation Sans',sans-serif;font-size:10.00px;line-height:1;-webkit-text-stroke:0.20px #2a2a33;transform:scaleX(0.9831);transform-origin:0 0;">DATE : 29/03/2019</div>
<div class="t" style="left:858.70px;top:366.40px;color:#0e1a28;font-family:'Liberation Sans',sans-serif;font-size:7.50px;line-height:1;-webkit-text-stroke:0.20px #0e1a28;transform:scaleX(0.9706);transform-origin:0 0;">Larg.</div>
<div class="t" style="left:887.40px;top:366.40px;color:#0e1a28;font-family:'Liberation Sans',sans-serif;font-size:7.50px;line-height:1;-webkit-text-stroke:0.20px #0e1a28;transform:scaleX(1.0176);transform-origin:0 0;">Haut.</div>
<div class="t" style="left:932.00px;top:366.40px;color:#0e1a28;font-family:'Liberation Sans',sans-serif;font-size:7.50px;line-height:1;-webkit-text-stroke:0.20px #0e1a28;">Quantité</div>
<div class="t" style="left:978.90px;top:366.40px;color:#0e1a28;font-family:'Liberation Sans',sans-serif;font-size:7.50px;line-height:1;-webkit-text-stroke:0.20px #0e1a28;transform:scaleX(1.0450);transform-origin:0 0;">Prix U</div>
<div class="t" style="left:1009.20px;top:366.40px;color:#0e1a28;font-family:'Liberation Sans',sans-serif;font-size:7.50px;line-height:1;-webkit-text-stroke:0.20px #0e1a28;transform:scaleX(1.0091);transform-origin:0 0;">Rem%</div>
<div class="t" style="left:1045.60px;top:366.40px;color:#0e1a28;font-family:'Liberation Sans',sans-serif;font-size:7.50px;line-height:1;-webkit-text-stroke:0.20px #0e1a28;transform:scaleX(1.0107);transform-origin:0 0;">Total HT</div>
<div class="t" style="left:574.40px;top:380.50px;color:#1e1e1e;font-family:'Liberation Sans',sans-serif;font-size:9.30px;line-height:1;font-weight:bold;-webkit-text-stroke:0.25px #1e1e1e;transform:scaleX(0.9303);transform-origin:0 0;">01 - PORTES-FENETRES</div>
<div class="t" style="left:574.40px;top:396.30px;color:#1a1a1a;font-family:'Liberation Sans',sans-serif;font-size:9.00px;line-height:1;font-weight:bold;-webkit-text-stroke:0.25px #1a1a1a;transform:scaleX(1.0387);transform-origin:0 0;">01-01 - Porte-fenêtre 2 vantaux français</div>
<div class="t" style="left:573.39px;top:406.00px;color:#2a2a33;font-family:'Liberation Sans',sans-serif;font-size:8.60px;line-height:1;-webkit-text-stroke:0.20px #2a2a33;transform:scaleX(1.0149);transform-origin:0 0;">Porte-fenêtre comprenant :</div>
<div class="t" style="left:574.40px;top:415.33px;color:#2a2a33;font-family:'Liberation Sans',sans-serif;font-size:8.60px;line-height:1;-webkit-text-stroke:0.20px #2a2a33;transform:scaleX(1.0081);transform-origin:0 0;">- cadre 100 mm,</div>
<div class="t" style="left:574.40px;top:424.66px;color:#2a2a33;font-family:'Liberation Sans',sans-serif;font-size:8.60px;line-height:1;-webkit-text-stroke:0.20px #2a2a33;">- aluminium blanc,</div>
<div class="t" style="left:574.40px;top:433.99px;color:#2a2a33;font-family:'Liberation Sans',sans-serif;font-size:8.60px;line-height:1;-webkit-text-stroke:0.20px #2a2a33;transform:scaleX(1.0067);transform-origin:0 0;">- vitre teintée 6 mm,</div>
<div class="t" style="left:574.40px;top:443.32px;color:#2a2a33;font-family:'Liberation Sans',sans-serif;font-size:8.60px;line-height:1;-webkit-text-stroke:0.20px #2a2a33;">- poignée aluminium blanc.</div>
<div class="t" style="left:856.21px;top:396.80px;color:#2a2a33;font-family:'Liberation Sans',sans-serif;font-size:8.40px;line-height:1;-webkit-text-stroke:0.20px #2a2a33;transform:scaleX(1.0941);transform-origin:0 0;">1600</div>
<div class="t" style="left:887.40px;top:396.80px;color:#2a2a33;font-family:'Liberation Sans',sans-serif;font-size:8.40px;line-height:1;-webkit-text-stroke:0.20px #2a2a33;transform:scaleX(1.0778);transform-origin:0 0;">2250</div>
<div class="t" style="left:937.80px;top:396.80px;color:#2a2a33;font-family:'Liberation Sans',sans-serif;font-size:8.40px;line-height:1;-webkit-text-stroke:0.20px #2a2a33;transform:scaleX(1.0750);transform-origin:0 0;">5,00</div>
<div class="t" style="left:976.20px;top:396.80px;color:#2a2a33;font-family:'Liberation Sans',sans-serif;font-size:8.40px;line-height:1;-webkit-text-stroke:0.20px #2a2a33;transform:scaleX(1.0520);transform-origin:0 0;">715,00</div>
<div class="t" style="left:1043.60px;top:396.80px;color:#2a2a33;font-family:'Liberation Sans',sans-serif;font-size:8.40px;line-height:1;-webkit-text-stroke:0.20px #2a2a33;transform:scaleX(1.0233);transform-origin:0 0;">3575,00</div>
<div class="t" style="left:574.40px;top:477.40px;color:#1a1a1a;font-family:'Liberation Sans',sans-serif;font-size:9.00px;line-height:1;font-weight:bold;-webkit-text-stroke:0.25px #1a1a1a;transform:scaleX(1.0324);transform-origin:0 0;">01-02 - Porte-fenêtre coulissante</div>
<div class="t" style="left:573.40px;top:487.20px;color:#2a2a33;font-family:'Liberation Sans',sans-serif;font-size:8.60px;line-height:1;-webkit-text-stroke:0.20px #2a2a33;transform:scaleX(1.0050);transform-origin:0 0;">Porte fenetre comprenant :</div>
<div class="t" style="left:574.40px;top:496.53px;color:#2a2a33;font-family:'Liberation Sans',sans-serif;font-size:8.60px;line-height:1;-webkit-text-stroke:0.20px #2a2a33;transform:scaleX(1.0081);transform-origin:0 0;">- cadre 100 mm,</div>
<div class="t" style="left:574.40px;top:505.86px;color:#2a2a33;font-family:'Liberation Sans',sans-serif;font-size:8.60px;line-height:1;-webkit-text-stroke:0.20px #2a2a33;">- aluminium blanc,</div>
<div class="t" style="left:574.40px;top:515.19px;color:#2a2a33;font-family:'Liberation Sans',sans-serif;font-size:8.60px;line-height:1;-webkit-text-stroke:0.20px #2a2a33;transform:scaleX(1.0067);transform-origin:0 0;">- vitre teintée 6 mm,</div>
<div class="t" style="left:574.40px;top:524.52px;color:#2a2a33;font-family:'Liberation Sans',sans-serif;font-size:8.60px;line-height:1;-webkit-text-stroke:0.20px #2a2a33;">- poignée aluminium blanc.</div>
<div class="t" style="left:856.21px;top:477.50px;color:#2a2a33;font-family:'Liberation Sans',sans-serif;font-size:8.40px;line-height:1;-webkit-text-stroke:0.20px #2a2a33;transform:scaleX(1.0941);transform-origin:0 0;">1800</div>
<div class="t" style="left:887.40px;top:477.50px;color:#2a2a33;font-family:'Liberation Sans',sans-serif;font-size:8.40px;line-height:1;-webkit-text-stroke:0.20px #2a2a33;transform:scaleX(1.0778);transform-origin:0 0;">2250</div>
<div class="t" style="left:937.80px;top:477.50px;color:#2a2a33;font-family:'Liberation Sans',sans-serif;font-size:8.40px;line-height:1;-webkit-text-stroke:0.20px #2a2a33;transform:scaleX(1.0750);transform-origin:0 0;">3,00</div>
<div class="t" style="left:976.20px;top:477.50px;color:#2a2a33;font-family:'Liberation Sans',sans-serif;font-size:8.40px;line-height:1;-webkit-text-stroke:0.20px #2a2a33;transform:scaleX(1.0520);transform-origin:0 0;">985,00</div>
<div class="t" style="left:1043.60px;top:477.50px;color:#2a2a33;font-family:'Liberation Sans',sans-serif;font-size:8.40px;line-height:1;-webkit-text-stroke:0.20px #2a2a33;transform:scaleX(1.0233);transform-origin:0 0;">2955,00</div>
<div class="t" style="left:574.40px;top:558.10px;color:#111;font-family:'Liberation Sans',sans-serif;font-size:8.60px;line-height:1;font-weight:bold;-webkit-text-stroke:0.25px #111;transform:scaleX(1.0402);transform-origin:0 0;">MENTIONS OBLIGATOIRES</div>
<div class="t" style="left:573.40px;top:571.80px;color:#2a2a33;font-family:'Liberation Sans',sans-serif;font-size:8.60px;line-height:1;-webkit-text-stroke:0.20px #2a2a33;">Le règlement peut être effectué :</div>
<div class="t" style="left:574.40px;top:581.27px;color:#2a2a33;font-family:'Liberation Sans',sans-serif;font-size:8.60px;line-height:1;-webkit-text-stroke:0.20px #2a2a33;">- par chèque,</div>
<div class="t" style="left:574.40px;top:590.74px;color:#2a2a33;font-family:'Liberation Sans',sans-serif;font-size:8.60px;line-height:1;-webkit-text-stroke:0.20px #2a2a33;">- en espèces,</div>
<div class="t" style="left:574.40px;top:600.21px;color:#2a2a33;font-family:'Liberation Sans',sans-serif;font-size:8.60px;line-height:1;-webkit-text-stroke:0.20px #2a2a33;">- par virement bancaire,</div>
<div class="t" style="left:574.40px;top:609.68px;color:#2a2a33;font-family:'Liberation Sans',sans-serif;font-size:8.60px;line-height:1;-webkit-text-stroke:0.20px #2a2a33;">- par carte bleue.</div>
<div class="t" style="left:573.40px;top:619.15px;color:#2a2a33;font-family:'Liberation Sans',sans-serif;font-size:8.60px;line-height:1;-webkit-text-stroke:0.20px #2a2a33;">Livraison et pose comprise.</div>
<div class="t" style="left:573.40px;top:628.62px;color:#2a2a33;font-family:'Liberation Sans',sans-serif;font-size:8.60px;line-height:1;-webkit-text-stroke:0.20px #2a2a33;">Échéance :&nbsp; 08/04/2019</div>
<div class="t" style="left:573.40px;top:638.09px;color:#2a2a33;font-family:'Liberation Sans',sans-serif;font-size:8.60px;line-height:1;-webkit-text-stroke:0.20px #2a2a33;">Règlement par virement bancaire.</div>
<div class="t" style="left:573.40px;top:647.56px;color:#2a2a33;font-family:'Liberation Sans',sans-serif;font-size:8.60px;line-height:1;-webkit-text-stroke:0.20px #2a2a33;">Pas d'escompte pour paiement anticipé.</div>
<div class="t" style="left:573.40px;top:657.03px;color:#2a2a33;font-family:'Liberation Sans',sans-serif;font-size:8.60px;line-height:1;-webkit-text-stroke:0.20px #2a2a33;">Intérêt de retard 1,5 % par mois de retard sur toute la facture.</div>
<div class="t" style="left:573.40px;top:666.50px;color:#2a2a33;font-family:'Liberation Sans',sans-serif;font-size:8.60px;line-height:1;-webkit-text-stroke:0.20px #2a2a33;">Indemnité forfaitaire de 40 euro pour tout retard de paiement.</div>
<div class="t" style="left:573.40px;top:675.97px;color:#2a2a33;font-family:'Liberation Sans',sans-serif;font-size:8.60px;line-height:1;-webkit-text-stroke:0.20px #2a2a33;">En cas de litige, la juridiction de notre siège social est seule</div>
<div class="t" style="left:574.40px;top:685.44px;color:#2a2a33;font-family:'Liberation Sans',sans-serif;font-size:8.60px;line-height:1;-webkit-text-stroke:0.20px #2a2a33;">compétente.</div>
<div class="t" style="left:567.60px;top:714.70px;color:#222;font-family:'Liberation Sans',sans-serif;font-size:7.40px;line-height:1;-webkit-text-stroke:0.20px #222;">Mode</div>
<div class="t" style="left:614.80px;top:714.70px;color:#222;font-family:'Liberation Sans',sans-serif;font-size:7.40px;line-height:1;-webkit-text-stroke:0.20px #222;transform:scaleX(1.0286);transform-origin:0 0;">N° pièce</div>
<div class="t" style="left:656.10px;top:714.70px;color:#222;font-family:'Liberation Sans',sans-serif;font-size:7.40px;line-height:1;-webkit-text-stroke:0.20px #222;transform:scaleX(1.0185);transform-origin:0 0;">Montant</div>
<div class="t" style="left:702.50px;top:714.70px;color:#222;font-family:'Liberation Sans',sans-serif;font-size:7.40px;line-height:1;-webkit-text-stroke:0.20px #222;">Date</div>
<div class="t" style="left:567.60px;top:726.90px;color:#222;font-family:'Liberation Sans',sans-serif;font-size:7.40px;line-height:1;-webkit-text-stroke:0.20px #222;">Chèque</div>
<div class="t" style="left:614.80px;top:726.90px;color:#222;font-family:'Liberation Sans',sans-serif;font-size:7.40px;line-height:1;-webkit-text-stroke:0.20px #222;transform:scaleX(1.0429);transform-origin:0 0;">7896541</div>
<div class="t" style="left:653.45px;top:726.90px;color:#222;font-family:'Liberation Sans',sans-serif;font-size:7.40px;line-height:1;-webkit-text-stroke:0.20px #222;transform:scaleX(1.0500);transform-origin:0 0;">1 000,00</div>
<div class="t" style="left:694.35px;top:726.90px;color:#222;font-family:'Liberation Sans',sans-serif;font-size:7.40px;line-height:1;-webkit-text-stroke:0.20px #222;transform:scaleX(1.0500);transform-origin:0 0;">15/03/19</div>
<div class="t" style="left:567.60px;top:740.90px;color:#222;font-family:'Liberation Sans',sans-serif;font-size:7.40px;line-height:1;-webkit-text-stroke:0.20px #222;">Virement</div>
<div class="t" style="left:614.80px;top:740.90px;color:#222;font-family:'Liberation Sans',sans-serif;font-size:7.40px;line-height:1;-webkit-text-stroke:0.20px #222;transform:scaleX(0.9733);transform-origin:0 0;">38H5693</div>
<div class="t" style="left:657.20px;top:740.90px;color:#222;font-family:'Liberation Sans',sans-serif;font-size:7.40px;line-height:1;-webkit-text-stroke:0.20px #222;transform:scaleX(1.0682);transform-origin:0 0;">500,00</div>
<div class="t" style="left:695.40px;top:740.90px;color:#222;font-family:'Liberation Sans',sans-serif;font-size:7.40px;line-height:1;-webkit-text-stroke:0.20px #222;transform:scaleX(1.0138);transform-origin:0 0;">20/03/19</div>
<div class="t" style="left:779.20px;top:719.20px;color:#2a2a33;font-family:'Liberation Sans',sans-serif;font-size:8.30px;line-height:1;-webkit-text-stroke:0.20px #2a2a33;transform:scaleX(0.9667);transform-origin:0 0;">TRAVAUX HT</div>
<div class="t" style="left:831.60px;top:719.20px;color:#2a2a33;font-family:'Liberation Sans',sans-serif;font-size:8.30px;line-height:1;-webkit-text-stroke:0.20px #2a2a33;">:</div>
<div class="t" style="left:841.10px;top:718.20px;color:#2a2a33;font-family:'Liberation Sans',sans-serif;font-size:9.60px;line-height:1;-webkit-text-stroke:0.20px #2a2a33;">6 530,00</div>
<div class="t" style="left:799.40px;top:731.80px;color:#2a2a33;font-family:'Liberation Sans',sans-serif;font-size:8.30px;line-height:1;-webkit-text-stroke:0.20px #2a2a33;transform:scaleX(0.9094);transform-origin:0 0;">REMISE</div>
<div class="t" style="left:831.60px;top:731.80px;color:#2a2a33;font-family:'Liberation Sans',sans-serif;font-size:8.30px;line-height:1;-webkit-text-stroke:0.20px #2a2a33;">:</div>
<div class="t" style="left:840.10px;top:730.80px;color:#2a2a33;font-family:'Liberation Sans',sans-serif;font-size:9.60px;line-height:1;-webkit-text-stroke:0.20px #2a2a33;">130,60</div>
<div class="t" style="left:750.90px;top:745.90px;color:#2a2a33;font-family:'Liberation Sans',sans-serif;font-size:8.30px;line-height:1;-webkit-text-stroke:0.20px #2a2a33;transform:scaleX(0.9823);transform-origin:0 0;">TOTAL TRAVAUX HT</div>
<div class="t" style="left:831.60px;top:745.90px;color:#2a2a33;font-family:'Liberation Sans',sans-serif;font-size:8.30px;line-height:1;-webkit-text-stroke:0.20px #2a2a33;">:</div>
<div class="t" style="left:841.10px;top:744.90px;color:#2a2a33;font-family:'Liberation Sans',sans-serif;font-size:9.60px;line-height:1;-webkit-text-stroke:0.20px #2a2a33;">6 399,40</div>
<div class="t" style="left:782.40px;top:759.00px;color:#2a2a33;font-family:'Liberation Sans',sans-serif;font-size:8.30px;line-height:1;-webkit-text-stroke:0.20px #2a2a33;transform:scaleX(0.9604);transform-origin:0 0;">% FACTURÉ</div>
<div class="t" style="left:831.60px;top:759.00px;color:#2a2a33;font-family:'Liberation Sans',sans-serif;font-size:8.30px;line-height:1;-webkit-text-stroke:0.20px #2a2a33;">:</div>
<div class="t" style="left:841.10px;top:758.00px;color:#2a2a33;font-family:'Liberation Sans',sans-serif;font-size:9.60px;line-height:1;-webkit-text-stroke:0.20px #2a2a33;">40</div>
<div class="t" style="left:933.30px;top:719.70px;color:#111;font-family:'Liberation Sans',sans-serif;font-size:11.00px;line-height:1;font-weight:bold;-webkit-text-stroke:0.25px #111;transform:scaleX(0.8471);transform-origin:0 0;">FACTURE HT</div>
<div class="t" style="left:998.30px;top:720.80px;color:#111;font-family:'Liberation Sans',sans-serif;font-size:10.40px;line-height:1;font-weight:bold;-webkit-text-stroke:0.25px #111;">:</div>
<div class="t" style="left:1028.00px;top:719.80px;color:#111;font-family:'Liberation Sans',sans-serif;font-size:11.40px;line-height:1;font-weight:bold;-webkit-text-stroke:0.25px #111;transform:scaleX(1.0455);transform-origin:0 0;">2 559,76</div>
<div class="t" style="left:928.00px;top:747.30px;color:#111;font-family:'Liberation Sans',sans-serif;font-size:11.00px;line-height:1;font-weight:bold;-webkit-text-stroke:0.25px #111;transform:scaleX(0.8500);transform-origin:0 0;">FACTURE TTC</div>
<div class="t" style="left:998.30px;top:748.30px;color:#111;font-family:'Liberation Sans',sans-serif;font-size:10.40px;line-height:1;font-weight:bold;-webkit-text-stroke:0.25px #111;">:</div>
<div class="t" style="left:1028.00px;top:747.30px;color:#111;font-family:'Liberation Sans',sans-serif;font-size:11.40px;line-height:1;font-weight:bold;-webkit-text-stroke:0.25px #111;transform:scaleX(1.0455);transform-origin:0 0;">2 559,76</div>
<div class="t" style="left:938.30px;top:768.40px;color:#333;font-family:'Liberation Sans',sans-serif;font-size:8.00px;line-height:1;-webkit-text-stroke:0.20px #333;transform:scaleX(0.9719);transform-origin:0 0;">ACOMPTE TTC</div>
<div class="t" style="left:999.30px;top:768.40px;color:#333;font-family:'Liberation Sans',sans-serif;font-size:8.00px;line-height:1;-webkit-text-stroke:0.20px #333;">:</div>
<div class="t" style="left:1034.00px;top:766.40px;color:#222;font-family:'Liberation Sans',sans-serif;font-size:10.40px;line-height:1;-webkit-text-stroke:0.20px #222;">1 500,00</div>
<div class="t" style="left:569.90px;top:801.20px;color:#111;font-family:'Liberation Sans',sans-serif;font-size:9.20px;line-height:1;font-weight:bold;-webkit-text-stroke:0.25px #111;transform:scaleX(1.0855);transform-origin:0 0;">Facture en euro</div>
<div class="t" style="left:957.40px;top:800.90px;color:#111;font-family:'Liberation Sans',sans-serif;font-size:9.00px;line-height:1;font-weight:bold;font-style:italic;-webkit-text-stroke:0.25px #111;transform:scaleX(1.0140);transform-origin:0 0;">A PAYER :</div>
<div class="t" style="left:1027.90px;top:798.00px;color:#454545;font-family:'Liberation Sans',sans-serif;font-size:12.00px;line-height:1;font-weight:bold;font-style:italic;-webkit-text-stroke:0.25px #454545;transform:scaleX(0.9809);transform-origin:0 0;">1 059,76</div>
<div class="t" style="left:564.70px;top:850.10px;color:#333;font-family:'Liberation Sans',sans-serif;font-size:6.60px;line-height:1;-webkit-text-stroke:0.20px #333;transform:scaleX(1.0211);transform-origin:0 0;">FA2019-3-26</div>
<div class="t" style="left:1043.70px;top:850.30px;color:#333;font-family:'Liberation Sans',sans-serif;font-size:6.60px;line-height:1;-webkit-text-stroke:0.20px #333;transform:scaleX(1.0100);transform-origin:0 0;">Page 1 / 1</div>
<div id="band"></div>
</body></html>
